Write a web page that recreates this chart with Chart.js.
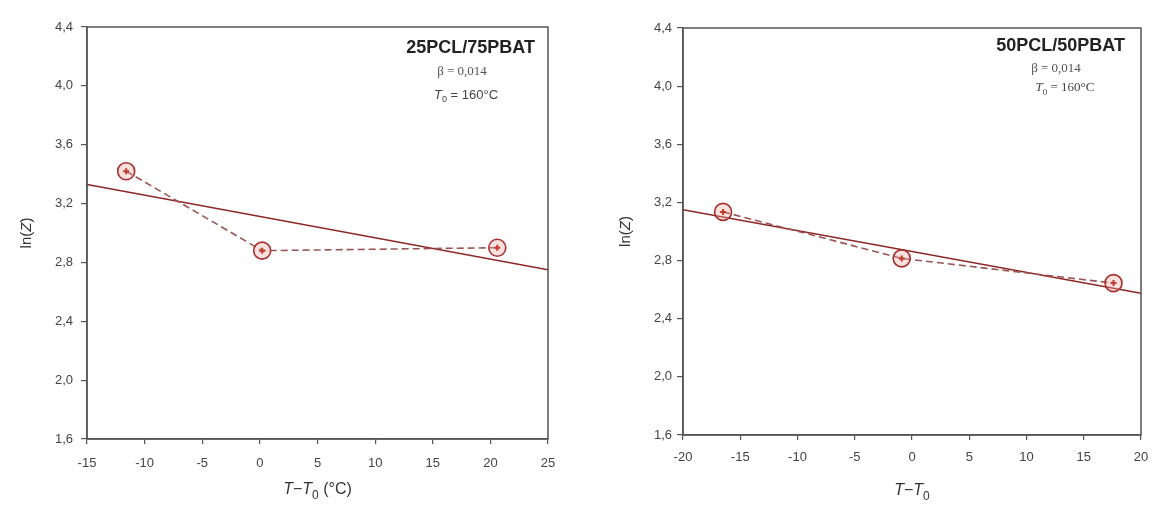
<!DOCTYPE html>
<html>
<head>
<meta charset="utf-8">
<script src="https://cdn.jsdelivr.net/npm/chart.js@4/dist/chart.umd.min.js"></script>
<style>
  html, body { margin: 0; padding: 0; background: #fff; }
  #wrap { position: relative; width: 1153px; height: 507px; overflow: hidden; }
  .panel { position: absolute; top: 0; }
</style>
</head>
<body>
<div id="wrap">
  <div class="panel" style="left:0px"><canvas id="c1" width="576" height="507"></canvas></div>
  <div class="panel" style="left:576px"><canvas id="c2" width="577" height="507"></canvas></div>
</div>
<script>
// ---- Data ----
// Left panel: 25PCL/75PBAT
const leftX = [-11.6, 0.2, 20.6];
const leftY = [3.42, 2.88, 2.90];
const leftFitX = [-15, 25];
const leftFitY = [3.33, 2.75];
const leftXTicks = [-15, 25, 5];   // min, max, step
// Right panel: 50PCL/50PBAT
const rightX = [-16.5, -0.9, 17.6];
const rightY = [3.135, 2.815, 2.645];
const rightFitX = [-20, 20];
const rightFitY = [3.15, 2.575];
const rightXTicks = [-20, 20, 5];
// Shared y axis
const yTicks = [1.6, 4.4, 0.4];
const leftLabels = ['25PCL/75PBAT', 'β = 0,014', '160°C'];
const rightLabels = ['50PCL/50PBAT', 'β = 0,014', '160°C'];

const SANS = "'Liberation Sans', Arial, Helvetica, sans-serif";
const SERIF = "'Liberation Serif', 'Times New Roman', serif";

function pts(xs, ys) { return xs.map((x, i) => ({ x: x, y: ys[i] })); }

function drawRuns(ctx, runs, cx, cy, size, family, color) {
  ctx.save();
  ctx.fillStyle = color;
  ctx.textBaseline = 'middle';
  ctx.textAlign = 'left';
  let total = 0;
  const fonts = runs.map(r => {
    const s = r.sub ? Math.round(size * 0.72) : size;
    const f = (r.italic ? 'italic ' : '') + (r.bold ? 'bold ' : '') + s + 'px ' + family;
    ctx.font = f;
    const w = ctx.measureText(r.t).width;
    total += w;
    return { f: f, w: w };
  });
  let x = cx - total / 2;
  runs.forEach((r, i) => {
    ctx.font = fonts[i].f;
    ctx.fillText(r.t, x, r.sub ? cy + size * 0.35 : cy);
    x += fonts[i].w;
  });
  ctx.restore();
}

function makePanel(id, xs, ys, fx, fy, xt, labels, geo) {
  const deco = {
    id: 'deco',
    afterDraw(chart) {
      const ctx = chart.ctx;
      const a = chart.chartArea;
      ctx.save();
      ctx.strokeStyle = '#555';
      ctx.lineWidth = 1.5;
      ctx.strokeRect(a.left, a.top, a.right - a.left, a.bottom - a.top);
      // panel title
      ctx.fillStyle = '#222';
      ctx.font = 'bold 18px ' + SANS;
      ctx.textAlign = 'right';
      ctx.textBaseline = 'middle';
      ctx.fillText(labels[0], geo.titleX, geo.titleY);
      ctx.restore();
      drawRuns(ctx, [{ t: labels[1] }], geo.betaX, geo.betaY, 13, SERIF, '#555');
      drawRuns(ctx, [{ t: 'T', italic: true }, { t: '0', sub: true }, { t: ' = ' + labels[2] }],
               geo.t0X, geo.t0Y, 13, geo.t0Family, '#444');
      // x-axis title
      drawRuns(ctx, geo.xTitle, (a.left + a.right) / 2, geo.xTitleY, 16, SANS, '#333');
      // y-axis title
      ctx.save();
      ctx.translate(geo.yTitleX, (a.top + a.bottom) / 2);
      ctx.rotate(-Math.PI / 2);
      drawRuns(ctx, [{ t: 'ln(' }, { t: 'Z', italic: true }, { t: ')' }], 0, 0, 15, SANS, '#333');
      ctx.restore();
    }
  };
  return new Chart(document.getElementById(id), {
    type: 'scatter',
    data: {
      datasets: [
        {
          label: 'fit', data: pts(fx, fy), showLine: true,
          borderColor: '#8e2626', borderWidth: 1.6, pointRadius: 0, order: 3
        },
        {
          label: 'data', data: pts(xs, ys), showLine: true,
          borderColor: '#9a5555', borderWidth: 1.6, borderDash: [7, 4],
          pointRadius: 8.5, pointStyle: 'circle',
          pointBorderColor: '#a83030', pointBorderWidth: 1.6,
          pointBackgroundColor: 'rgba(240,170,160,0.35)', order: 2
        },
        {
          label: 'center', data: pts(xs, ys), showLine: false,
          pointStyle: 'cross', pointRadius: 3, pointBorderWidth: 2,
          pointBorderColor: '#c0392b', order: 1
        }
      ]
    },
    options: {
      responsive: false,
      animation: false,
      events: [],
      layout: { padding: { left: 0, top: geo.top, right: geo.right, bottom: 0 } },
      plugins: { legend: { display: false }, tooltip: { enabled: false } },
      scales: {
        x: {
          type: 'linear', min: xt[0], max: xt[1],
          afterFit(s) { s.height = geo.xh; s.paddingLeft = 0; s.paddingRight = 0; },
          ticks: { stepSize: xt[2], color: '#444', font: { size: 13, family: SANS }, padding: geo.xPad, maxRotation: 0 },
          grid: { drawOnChartArea: false, drawTicks: true, tickLength: 5, color: '#555', lineWidth: 1.2 },
          border: { display: true, color: '#555', width: 1.5 }
        },
        y: {
          type: 'linear', min: yTicks[0], max: yTicks[1],
          afterFit(s) { s.width = geo.yw; s.paddingTop = 0; s.paddingBottom = 0; },
          ticks: {
            stepSize: yTicks[2], color: '#444', font: { size: 13, family: SANS }, padding: geo.yPad,
            callback: v => v.toFixed(1).replace('.', ',')
          },
          grid: { drawOnChartArea: false, drawTicks: true, tickLength: 6, color: '#555', lineWidth: 1.2 },
          border: { display: true, color: '#555', width: 1.5 }
        }
      }
    },
    plugins: [deco]
  });
}

makePanel('c1', leftX, leftY, leftFitX, leftFitY, leftXTicks, leftLabels, {
  top: 27, right: 28, xh: 68, yw: 87, xPad: 12, yPad: 8,
  titleX: 535, titleY: 48, betaX: 462, betaY: 72, t0X: 466, t0Y: 95, t0Family: SANS,
  xTitle: [{ t: 'T', italic: true }, { t: '−' }, { t: 'T', italic: true }, { t: '0', sub: true }, { t: ' (°C)' }],
  xTitleY: 490, yTitleX: 27
});
makePanel('c2', rightX, rightY, rightFitX, rightFitY, rightXTicks, rightLabels, {
  top: 28, right: 12, xh: 72, yw: 107, xPad: 10, yPad: 5,
  titleX: 549, titleY: 46, betaX: 480, betaY: 69, t0X: 489, t0Y: 88, t0Family: SERIF,
  xTitle: [{ t: 'T', italic: true }, { t: '−' }, { t: 'T', italic: true }, { t: '0', sub: true }],
  xTitleY: 491, yTitleX: 50
});
</script>
</body>
</html>
